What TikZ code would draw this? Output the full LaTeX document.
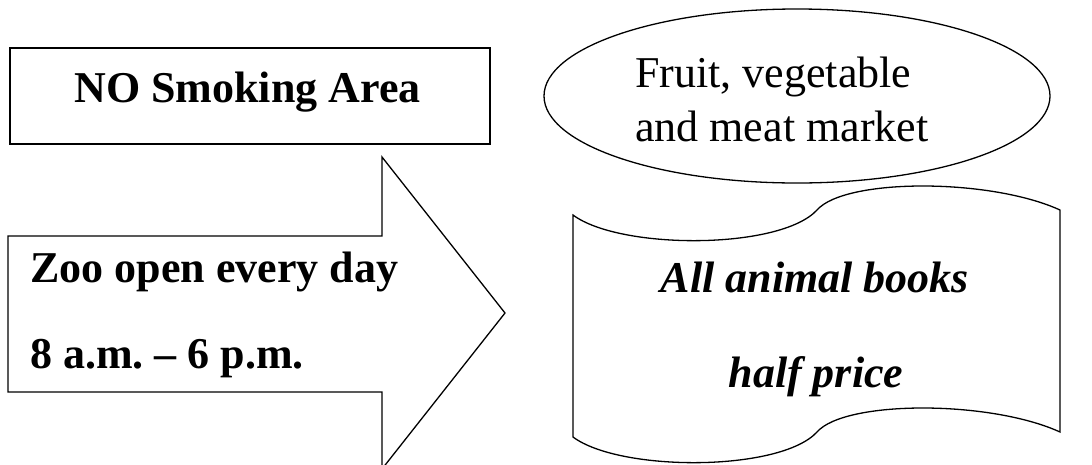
\documentclass[tikz,border=0pt]{standalone}
\usepackage{fontspec}
\setmainfont{Liberation Serif}
\frenchspacing
\begin{document}
\begin{tikzpicture}[x=1pt,y=-1pt,
  outline/.style={draw=black,line width=1.3pt,line join=miter},
  bigtext/.style={font=\fontsize{44}{50}\selectfont,inner sep=0pt,anchor=base},
  boldtext/.style={bigtext,font=\fontsize{44}{50}\selectfont\bfseries},
  bitext/.style={bigtext,font=\fontsize{44}{50}\selectfont\bfseries\itshape}]
\useasboundingbox[fill=white] (0,0) rectangle (1092,464);
\clip (0,0) rectangle (1092,464);
% No smoking box
\node[outline,minimum width=480pt,minimum height=96pt,inner sep=0pt] (nosmoke) at (250,96) {};
\node[boldtext] (nosmoketext) at (247.5,102) {NO Smoking Area};
% Arrow
\draw[outline] (382,480) -- (382,392) -- (8,392) -- (8,236) -- (382,236) -- (382,157) -- (505,313) -- (382,469);
\node[boldtext,anchor=base west] (zoo1) at (30,282) {Zoo open every day};
\node[boldtext,anchor=base west] (zoo2) at (30,368) {8 a.m. -- 6 p.m.};
% Ellipse
\draw[outline] (797,96) ellipse [x radius=253, y radius=87];
\node[bigtext,anchor=base west] (fruit1) at (635,87) {Fruit, vegetable};
\node[bigtext,anchor=base west] (fruit2) at (635,141) {and meat market};
% Wave banner
\draw[outline] (573,215) .. controls (620,250) and (780,250) .. (817,210)
  .. controls (845,178) and (990,178) .. (1060,210)
  -- (1060,432)
  .. controls (990,400) and (845,400) .. (817,432)
  .. controls (780,472) and (620,472) .. (573,437) -- cycle;
\node[bitext] (books1) at (815,292) {All animal books};
\node[bitext] (books2) at (816,387) {half price};
\end{tikzpicture}
\end{document}
